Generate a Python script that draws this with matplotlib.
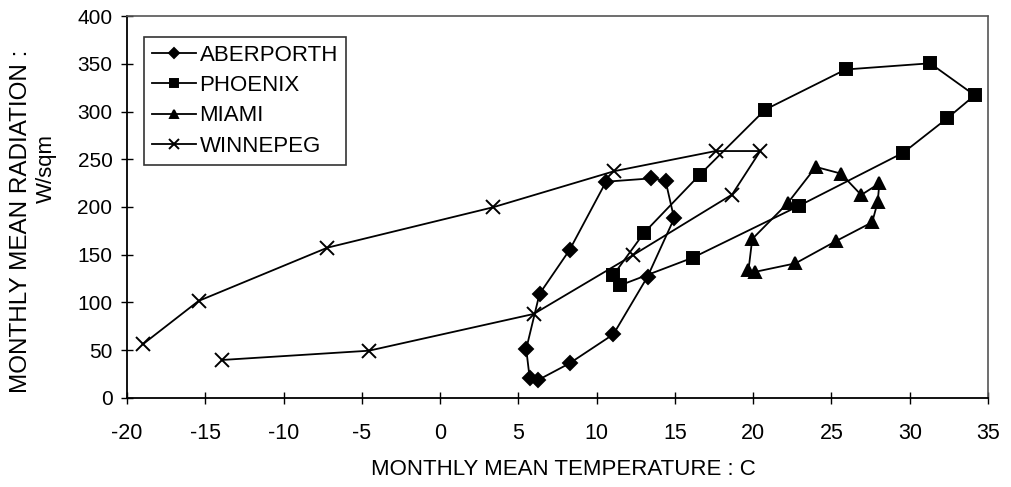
import matplotlib
matplotlib.use("Agg")
import matplotlib.pyplot as plt

plt.rcParams['font.family'] = ['Liberation Sans', 'DejaVu Sans']
plt.rcParams['axes.unicode_minus'] = False

# monthly means, Jan..Dec : (temperature C, radiation W/sqm)
aberporth_t = [5.72, 5.5, 6.35, 8.27, 10.6, 13.5, 14.4, 14.95, 13.25, 11.07, 8.27, 6.26]
aberporth_r = [21.3, 51.3, 109, 155, 226.5, 230, 227.5, 188, 127, 66.7, 36.3, 18.8]

phoenix_t = [11.07, 13.03, 16.6, 20.77, 25.9, 31.3, 34.15, 32.4, 29.6, 22.9, 16.15, 11.5]
phoenix_r = [128.8, 173, 234, 302, 344, 350.5, 317, 293, 257, 201, 147, 118]

miami_t = [19.7, 19.94, 22.2, 24.0, 25.6, 26.9, 28.06, 27.95, 27.6, 25.3, 22.7, 20.1]
miami_r = [134, 166.5, 204, 242, 235, 212.6, 224.8, 205, 184, 164.4, 141, 132]

winnepeg_t = [-18.97, -15.43, -7.2, 3.38, 11.12, 17.6, 20.45, 18.65, 12.33, 5.98, -4.55, -13.93]
winnepeg_r = [56.5, 101.6, 157.4, 199.7, 237.5, 258.6, 258.6, 213, 149.7, 88, 49.5, 39.8]

xticks = list(range(-20, 36, 5))
yticks = list(range(0, 401, 50))

fig = plt.figure(figsize=(10.12, 4.87), dpi=100)
ax = fig.add_axes([0.1255, 0.1828, 0.8508, 0.7843])

series = [
    (aberporth_t, aberporth_r, 'D', 7, 'ABERPORTH'),
    (phoenix_t, phoenix_r, 's', 8, 'PHOENIX'),
    (miami_t, miami_r, '^', 8.5, 'MIAMI'),
    (winnepeg_t, winnepeg_r, 'x', 10, 'WINNEPEG'),
]
for t, r, mk, ms, name in series:
    ax.plot(t, r, color='black', lw=1.3, marker=mk, ms=ms, mew=1.4,
            mfc='black', mec='black', label=name, clip_on=False)

ax.set_xlim(-20, 35)
ax.set_ylim(0, 400)
ax.set_xticks(xticks)
ax.set_yticks(yticks)
ax.tick_params(axis='x', direction='inout', length=9, width=1, pad=13.5, labelsize=15.5)
ax.tick_params(axis='y', direction='inout', length=9, width=1, pad=6, labelsize=15)

for side in ('left', 'bottom'):
    ax.spines[side].set_linewidth(1.3)
for side in ('top', 'right'):
    ax.spines[side].set_linestyle((0, (1, 1)))
    ax.spines[side].set_linewidth(1.2)
    ax.spines[side].set_color('#555555')

fig.text(0.557, 0.035, 'MONTHLY MEAN TEMPERATURE : C', fontsize=16,
         ha='center', va='center')
fig.text(0.021, 0.546, 'MONTHLY MEAN RADIATION :', fontsize=17.5,
         rotation=90, ha='center', va='center')
fig.text(0.046, 0.655, 'W/sqm', fontsize=16, rotation=90,
         ha='center', va='center')

leg = ax.legend(loc='upper left', bbox_to_anchor=(0.0197, 0.945), fontsize=16,
                frameon=True, fancybox=False, edgecolor='black',
                handlelength=2.0, handletextpad=0.15, labelspacing=0.42,
                borderpad=0.35, borderaxespad=0, markerscale=0.7)
leg.get_frame().set_linewidth(1.2)

fig.savefig('out.png', dpi=100)
